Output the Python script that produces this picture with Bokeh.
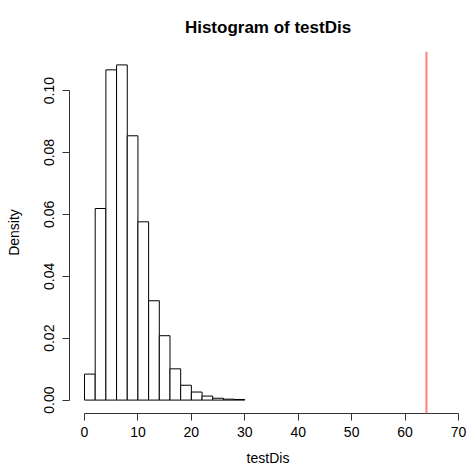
from bokeh.plotting import figure
from bokeh.models import Range1d, FixedTicker, PrintfTickFormatter, Span, ColumnDataSource
from bokeh.embed import file_html
from bokeh.resources import INLINE

# Histogram of testDis: bin edges and densities
bin_edges = [0, 2, 4, 6, 8, 10, 12, 14, 16, 18, 20, 22, 24, 26, 28, 30]
density = [0.0084, 0.0619, 0.1067, 0.1083, 0.0854, 0.0576, 0.0321, 0.0208,
           0.0101, 0.0048, 0.0026, 0.0013, 0.0006, 0.0003, 0.0002]
observed = 64  # observed statistic, drawn as a vertical reference line

x_ticks = [0, 10, 20, 30, 40, 50, 60, 70]
y_ticks = [0.00, 0.02, 0.04, 0.06, 0.08, 0.10]

FONT = "Liberation Sans"

ymax = max(density)
pad = 0.04 * ymax

p = figure(width=467, height=468, output_backend="svg", toolbar_location=None,
           x_range=Range1d(-2.81, 71.5), y_range=Range1d(-pad, ymax + pad),
           min_border_left=69, min_border_right=1, min_border_top=51,
           min_border_bottom=55)

p.title.text = "Histogram of testDis"
p.title.text_font = FONT
p.title.text_font_size = "17px"
p.title.text_font_style = "bold"
p.title.text_color = "black"
p.title.align = "center"
p.title.vertical_align = "top"
p.title.standoff = 26

p.outline_line_color = None
p.xgrid.visible = False
p.ygrid.visible = False
p.background_fill_color = "white"
p.border_fill_color = "white"

src = ColumnDataSource(dict(left=bin_edges[:-1], right=bin_edges[1:],
                            top=density, bottom=[0] * len(density)))
p.quad(left="left", right="right", top="top", bottom="bottom", source=src,
       fill_color="white", line_color="black", line_width=1)

p.add_layout(Span(location=observed, dimension="height",
                  line_color="#ff7f7f", line_width=2))

for ax in (p.xaxis[0], p.yaxis[0]):
    ax.major_tick_out = 7
    ax.major_tick_in = 0
    ax.minor_tick_out = 0
    ax.minor_tick_in = 0
    ax.axis_line_color = "#333333"
    ax.major_tick_line_color = "#333333"
    ax.major_label_text_font = FONT
    ax.major_label_text_font_size = "14px"
    ax.major_label_text_color = "black"
    ax.axis_label_text_font = FONT
    ax.axis_label_text_font_size = "14px"
    ax.axis_label_text_font_style = "normal"
    ax.axis_label_text_color = "black"
    ax.major_label_standoff = 6

p.xaxis.ticker = FixedTicker(ticks=x_ticks)
p.xaxis.bounds = (x_ticks[0], x_ticks[-1])
p.xaxis.axis_label = "testDis"
p.xaxis.axis_label_standoff = 10

p.yaxis.ticker = FixedTicker(ticks=y_ticks)
p.yaxis.bounds = (y_ticks[0], y_ticks[-1])
p.yaxis.formatter = PrintfTickFormatter(format="%.2f")
p.yaxis.major_label_orientation = "vertical"
p.yaxis.major_label_standoff = 8
p.yaxis.axis_label = "Density"
p.yaxis.axis_label_standoff = 20

open("out.html", "w").write(file_html(p, INLINE))
